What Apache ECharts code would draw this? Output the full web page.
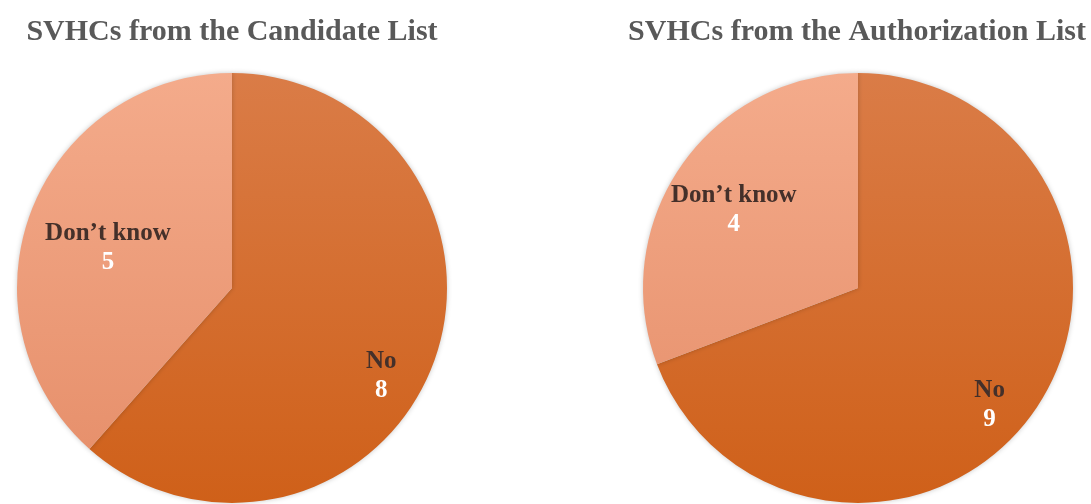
<!DOCTYPE html>
<html>
<head>
<meta charset="utf-8">
<script src="https://cdn.jsdelivr.net/npm/echarts@6/dist/echarts.min.js"></script>
<style>
  html, body { margin: 0; padding: 0; background: #ffffff; }
  #chart { width: 1091px; height: 504px; }
</style>
</head>
<body>
<div id="chart"></div>
<script>
// Survey answers, one pie per substance list
const categories = ['No', 'Don\u2019t know'];
const candidateCounts = [8, 5];
const authorizationCounts = [9, 4];
const chartTitles = ['SVHCs from the Candidate List', 'SVHCs from the Authorization List'];

const SERIF = "'Liberation Serif', 'Times New Roman', serif";
const PIE_RADIUS = 215;
const PIE_CY = 288;
const PIE_CX = [232, 858];
const TITLE_CX = [227, 852];

// Label anchor per slice: fraction of radius and angular nudge from the slice middle
const labelSpots = [
  [{ frac: 0.80, shift: 9 }, { frac: 0.61, shift: -1.8 }],
  [{ frac: 0.81, shift: 6.3 }, { frac: 0.69, shift: -1.5 }]
];

const seriesValues = [candidateCounts, authorizationCounts];

// Middle angle of each slice, degrees clockwise from 12 o'clock
function midAngles(values) {
  const total = values.reduce((a, b) => a + b, 0);
  let acc = 0;
  return values.map(v => {
    const start = acc;
    acc += v / total * 360;
    return (start + acc) / 2;
  });
}

const gradTop = PIE_CY - PIE_RADIUS;
const gradBottom = PIE_CY + PIE_RADIUS;
function vGrad(top, bottom) {
  return new echarts.graphic.LinearGradient(0, gradTop, 0, gradBottom, [
    { offset: 0, color: top },
    { offset: 1, color: bottom }
  ], true);
}
const sliceColors = [vGrad('#da7c47', '#cf6019'), vGrad('#f4ab8b', '#e58d68')];

function buildSeries(values, idx) {
  const mids = midAngles(values);
  return {
    type: 'pie',
    center: [PIE_CX[idx], PIE_CY],
    radius: PIE_RADIUS,
    startAngle: 90,
    clockwise: true,
    animation: false,
    silent: true,
    itemStyle: {
      borderWidth: 0,
      shadowBlur: 5,
      shadowColor: 'rgba(0,0,0,0.22)'
    },
    label: {
      show: true,
      position: 'inside',
      formatter: '{n|{b}}\n{v|{c}}',
      rich: {
        n: { fontFamily: SERIF, fontWeight: 'bold', fontSize: 25, color: '#44302a', lineHeight: 29, align: 'center' },
        v: { fontFamily: SERIF, fontWeight: 'bold', fontSize: 25, color: '#ffffff', lineHeight: 29, align: 'center' }
      }
    },
    labelLine: { show: false },
    // Place each label block at its anchor point inside the slice
    labelLayout: function (params) {
      const d = params.dataIndex;
      const spot = labelSpots[idx][d];
      const ang = (mids[d] + spot.shift) * Math.PI / 180;
      const tx = PIE_CX[idx] + spot.frac * PIE_RADIUS * Math.sin(ang);
      const ty = PIE_CY - spot.frac * PIE_RADIUS * Math.cos(ang) + 3;
      const r = params.labelRect;
      return { dx: tx - (r.x + r.width / 2), dy: ty - (r.y + r.height / 2) };
    },
    data: categories.map((name, i) => ({
      name: name,
      value: values[i],
      itemStyle: { color: sliceColors[i] }
    }))
  };
}

const chart = echarts.init(document.getElementById('chart'), null, { renderer: 'canvas' });

chart.setOption({
  backgroundColor: '#ffffff',
  title: chartTitles.map((t, i) => ({
    text: t,
    left: TITLE_CX[i],
    top: 12,
    textAlign: 'center',
    textStyle: { fontFamily: SERIF, fontWeight: 'bold', fontSize: 30, color: '#595959' }
  })),
  series: seriesValues.map(buildSeries)
});
</script>
</body>
</html>
